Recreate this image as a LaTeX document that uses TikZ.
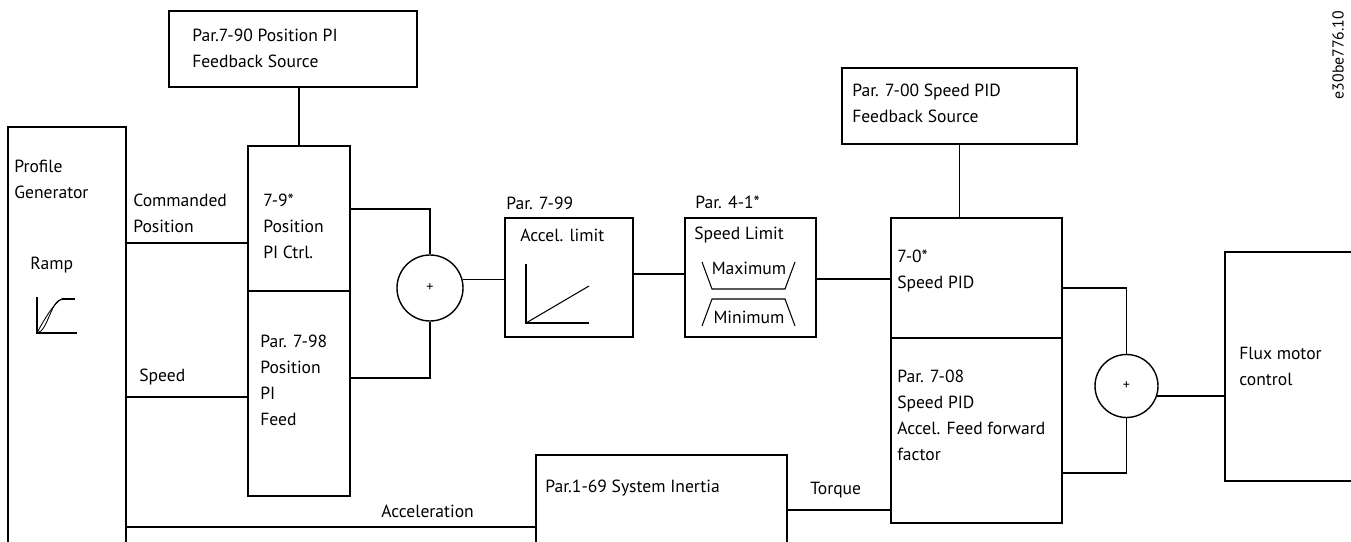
\documentclass[tikz,border=0pt]{standalone}
\usepackage{fontspec}
\setmainfont{PT Sans}

\begin{document}
\begin{tikzpicture}[
    blk/.style={draw, line width=0.8pt, inner sep=0pt},
    sumnode/.style={draw, circle, line width=0.8pt, minimum size=1.32cm, inner sep=0pt, font=\footnotesize},
    lbl/.style={anchor=west, align=left, inner sep=0pt, font=\fontsize{10}{14.8}\selectfont},
    wire/.style={line width=0.8pt},
    icon/.style={line width=0.6pt}
]
\useasboundingbox (0,0) rectangle (27.02,10.82);
\clip (0,0) rectangle (27.02,10.82);

% Blocks
\node[blk, minimum width=2.36cm, minimum height=8.78cm] (profgen) at (1.34,3.89) {};
\node[blk, minimum width=4.96cm, minimum height=1.52cm] (pifb) at (5.86,9.84) {};
\node[blk, minimum width=2.04cm, minimum height=2.90cm] (pictrl) at (5.98,6.45) {};
\node[blk, minimum width=2.04cm, minimum height=4.10cm] (pifeed) at (5.98,2.95) {};
\node[sumnode] (sum1) at (8.60,5.06) {+};
\node[blk, minimum width=2.56cm, minimum height=2.38cm] (acclim) at (11.38,5.27) {};
\node[blk, minimum width=2.62cm, minimum height=2.38cm] (spdlim) at (15.01,5.27) {};
\node[blk, minimum width=5.02cm, minimum height=2.22cm] (inertia) at (13.23,0.61) {};
\node[blk, minimum width=4.70cm, minimum height=1.52cm] (spfb) at (19.19,8.70) {};
\node[blk, minimum width=3.42cm, minimum height=2.40cm] (spid) at (19.53,5.26) {};
\node[blk, minimum width=3.42cm, minimum height=3.70cm] (spff) at (19.53,2.21) {};
\node[sumnode, minimum size=1.26cm] (sum2) at (22.53,3.10) {+};
\node[blk, minimum width=4.0cm, minimum height=4.58cm] (flux) at (26.5,3.49) {};

% Texts
\node[lbl] (t790) at (3.84,9.85) {Par.7-90 Position PI\\Feedback Source};
\node[lbl] (tprof) at (0.28,7.23) {Profile\\Generator};
\node[lbl] (tramp) at (0.60,5.52) {Ramp};
\node[lbl] (tcmd) at (2.66,6.56) {Commanded\\Position};
\node[lbl] (t79) at (5.26,6.30) {7-9*\\Position\\PI Ctrl.};
\node[lbl] (t798) at (5.20,3.21) {Par. 7-98\\Position\\PI\\Feed};
\node[lbl] (tspeed) at (2.78,3.28) {Speed};
\node[lbl] (tacc) at (7.62,0.60) {Acceleration};
\node[lbl] (t799) at (10.12,6.76) {Par. 7-99};
\node[lbl] (taccl) at (10.40,6.12) {Accel. limit};
\node[lbl] (t41) at (13.90,6.78) {Par. 4-1*};
\node[lbl] (tspl) at (13.88,6.12) {Speed Limit};
\node[lbl, anchor=center] (tmax) at (14.98,5.46) {Maximum};
\node[lbl, anchor=center] (tmin) at (14.98,4.48) {Minimum};
\node[lbl] (t169) at (10.90,1.06) {Par.1-69 System Inertia};
\node[lbl] (ttorque) at (16.20,1.02) {Torque};
\node[lbl] (t700) at (17.04,8.75) {Par. 7-00 Speed PID\\Feedback Source};
\node[lbl] (t70) at (17.94,5.40) {7-0*\\Speed PID};
\node[lbl] (t708) at (17.94,2.52) {Par. 7-08\\Speed PID\\Accel. Feed forward\\factor};
\node[lbl] (tflux) at (24.78,3.49) {Flux motor\\control};
\node[lbl, anchor=center, rotate=90, font=\fontsize{9}{11}\selectfont] (tid) at (26.76,9.72) {e30be776.10};

% Connections
\draw[wire] (pictrl.north) -- (pictrl.north |- pifb.south);
\draw[wire] (profgen.east |- 0,5.96) -- (pictrl.west |- 0,5.96);
\draw[wire] (profgen.east |- 0,2.88) -- (pifeed.west |- 0,2.88);
\draw[wire] (profgen.east |- 0,0.28) -- (inertia.west |- 0,0.28);
\draw[wire] (pictrl.east |- 0,6.64) -| (sum1.north);
\draw[wire] (pifeed.east |- 0,3.26) -| (sum1.south);
\draw[wire] (sum1.15) -- (sum1.15 -| acclim.west);
\draw[wire] (acclim.east |- 0,5.34) -- (spdlim.west |- 0,5.34);
\draw[wire] (spdlim.east |- 0,5.24) -- (spid.west |- 0,5.24);
\draw[wire] (spfb.south) -- (spfb.south |- spid.north);
\draw[wire] (spid.east |- 0,5.06) -| (sum2.north);
\draw[wire] (spff.east |- 0,1.36) -| (sum2.south);
\draw[wire] (sum2.-18) -- (sum2.-18 -| flux.west);
\draw[wire] (inertia.east |- 0,0.62) -- (spff.west |- 0,0.62);

% Ramp icon
\draw[icon] (0.74,4.88) -- (0.74,4.16) -- (1.54,4.16);
\draw[icon] (1.24,4.84) -- (1.50,4.84);
\draw[line width=0.5pt] (0.74,4.16) .. controls (0.95,4.18) and (1.02,4.82) .. (1.24,4.84);
\draw[line width=0.5pt] (0.74,4.16) .. controls (0.82,4.32) and (1.08,4.78) .. (1.24,4.84);

% Accel limit graph
\draw[icon] (10.52,5.54) -- (10.52,4.36) -- (11.78,4.36);
\draw[icon] (10.52,4.36) -- (11.78,5.10);

% Speed limit trapezoids
\draw[icon] (14.04,5.58) -- (14.24,5.04) -- (15.70,5.04) -- (15.90,5.58);
\draw[icon] (14.04,4.30) -- (14.24,4.84) -- (15.70,4.84) -- (15.90,4.30);

\end{tikzpicture}
\end{document}
